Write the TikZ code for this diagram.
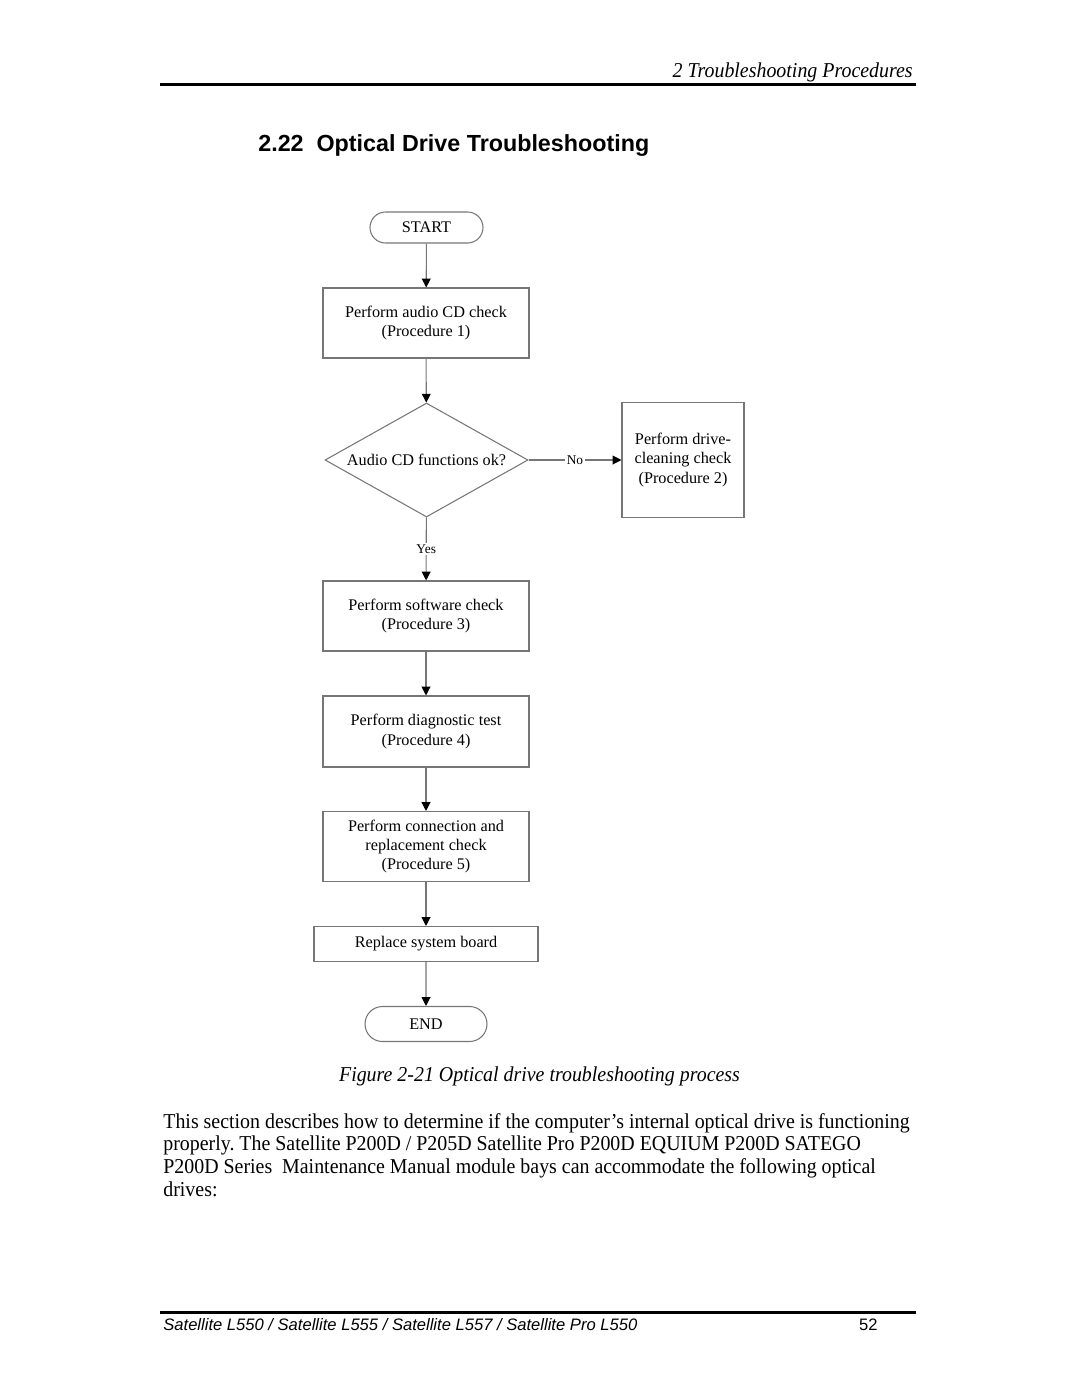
\documentclass[tikz,border=0pt]{standalone}
\usepackage{fontspec}
\setmainfont{Liberation Serif}
\newfontfamily\narrowserif{Liberation Serif}[FakeStretch=0.94]
\newfontfamily\headsans{Liberation Sans}
\usetikzlibrary{arrows.meta,shapes.geometric,shapes.misc}
\frenchspacing

\definecolor{flowline}{RGB}{118,118,118}
\def\px{0.5667pt} % one pixel of the page

\tikzset{
  procbox/.style={draw=flowline, line width=0.6pt, align=center,
    font=\fontsize{9.2}{10.8}\selectfont, inner sep=0pt},
  termbox/.style={procbox, rounded rectangle},
  decision/.style={procbox, diamond, aspect=1.78},
  flowarrow/.style={draw=flowline, line width=0.6pt,
    -{Triangle[color=black,length=5pt,width=5pt]}},
  branchlabel/.style={fill=white, inner sep=1pt, font=\fontsize{7.6}{9}\selectfont},
  bodyline/.style={anchor=base west, inner sep=0pt, font=\narrowserif\fontsize{12}{14}\selectfont},
}

\begin{document}
\begin{tikzpicture}[x=0.5667pt, y=-0.5667pt]
\useasboundingbox (0,0) rectangle (1080,1397);

% page head
\node[anchor=base east, inner sep=0pt, font=\narrowserif\itshape\fontsize{12}{14}\selectfont] (head) at (913,77) {2 Troubleshooting Procedures};
\draw[line width=2pt] (160,84.5) -- (916,84.5);
\node[anchor=base west, inner sep=0pt, font=\headsans\bfseries\fontsize{13.2}{15}\selectfont] (title) at (258,151) {2.22\ \ Optical Drive Troubleshooting};

% flow chart
\node[termbox, minimum width=113*\px, minimum height=31*\px] (start) at (426.5,227.5) {START};
\node[procbox, minimum width=206*\px, minimum height=70*\px] (audio) at (426,323) {Perform audio CD check\\(Procedure 1)};
\node[decision, minimum width=203*\px, minimum height=114*\px] (ok) at (426.5,460) {Audio CD functions ok?};
\node[procbox, minimum width=122*\px, minimum height=115*\px] (clean) at (683,460) {Perform drive-\\cleaning check\\(Procedure 2)};
\node[procbox, minimum width=206*\px, minimum height=70*\px] (soft) at (426,616) {Perform software check\\(Procedure 3)};
\node[procbox, minimum width=206*\px, minimum height=71*\px] (diag) at (426,731.5) {Perform diagnostic test\\(Procedure 4)};
\node[procbox, minimum width=206*\px, minimum height=70*\px] (conn) at (426,846.5) {Perform connection and\\replacement check\\(Procedure 5)};
\node[procbox, minimum width=224*\px, minimum height=35*\px] (board) at (426,944) {Replace system board};
\node[termbox, minimum width=122*\px, minimum height=35*\px] (end) at (426,1024) {END};

\draw[flowarrow] (start) -- (audio);
\draw[flowarrow] (audio) -- (ok);
\draw[flowarrow] (ok) -- node[branchlabel] (no) {No} (clean);
\draw[flowarrow] (ok) -- node[branchlabel] (yes) {Yes} (soft);
\draw[flowarrow] (soft) -- (diag);
\draw[flowarrow] (diag) -- (conn);
\draw[flowarrow] (conn) -- (board);
\draw[flowarrow] (board) -- (end);

% caption and text
\node[anchor=base, inner sep=0pt, font=\narrowserif\itshape\fontsize{12}{14}\selectfont] (caption) at (539.5,1081) {Figure 2-21 Optical drive troubleshooting process};
\node[bodyline] (body1) at (163,1128) {This section describes how to determine if the computer’s internal optical drive is functioning};
\node[bodyline] (body2) at (163,1150.7) {properly. The Satellite P200D / P205D Satellite Pro P200D EQUIUM P200D SATEGO};
\node[bodyline] (body3) at (163,1173.3) {P200D Series\ \ Maintenance Manual module bays can accommodate the following optical};
\node[bodyline] (body4) at (163,1196) {drives:};

% page foot
\draw[line width=1.7pt] (160,1312) -- (916,1312);
\node[anchor=base west, inner sep=0pt, font=\headsans\itshape\fontsize{9.4}{11}\selectfont] (foot) at (163,1330) {Satellite L550 / Satellite L555 / Satellite L557 / Satellite Pro L550};
\node[anchor=base east, inner sep=0pt, font=\headsans\fontsize{9.4}{11}\selectfont] (page) at (878,1330) {52};
\end{tikzpicture}
\end{document}
